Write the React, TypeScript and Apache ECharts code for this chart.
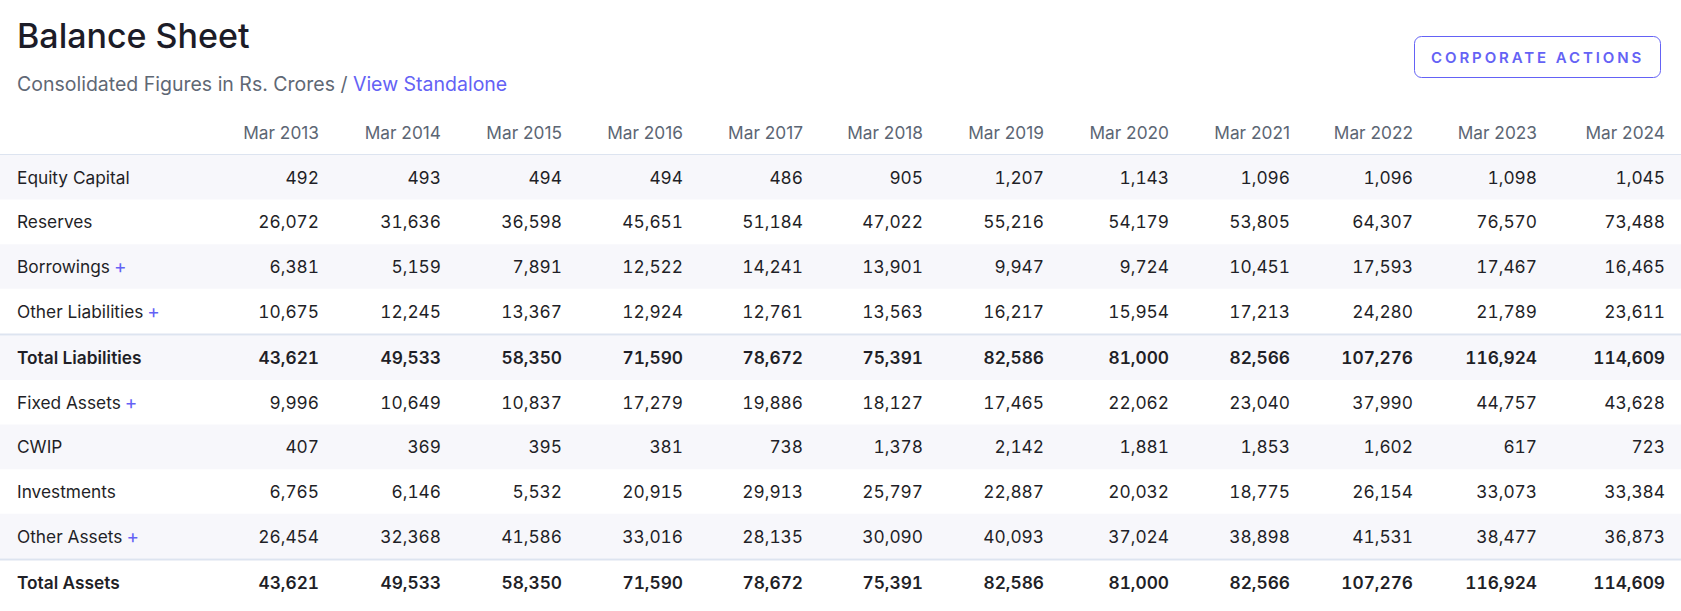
import React, { useEffect, useRef } from "react";
import * as echarts from "echarts";

const years = ["Mar 2013", "Mar 2014", "Mar 2015", "Mar 2016", "Mar 2017", "Mar 2018", "Mar 2019", "Mar 2020", "Mar 2021", "Mar 2022", "Mar 2023", "Mar 2024"];

const equityCapital = [492, 493, 494, 494, 486, 905, 1207, 1143, 1096, 1096, 1098, 1045];
const reserves = [26072, 31636, 36598, 45651, 51184, 47022, 55216, 54179, 53805, 64307, 76570, 73488];
const borrowings = [6381, 5159, 7891, 12522, 14241, 13901, 9947, 9724, 10451, 17593, 17467, 16465];
const otherLiabilities = [10675, 12245, 13367, 12924, 12761, 13563, 16217, 15954, 17213, 24280, 21789, 23611];
const totalLiabilities = [43621, 49533, 58350, 71590, 78672, 75391, 82586, 81000, 82566, 107276, 116924, 114609];
const fixedAssets = [9996, 10649, 10837, 17279, 19886, 18127, 17465, 22062, 23040, 37990, 44757, 43628];
const cwip = [407, 369, 395, 381, 738, 1378, 2142, 1881, 1853, 1602, 617, 723];
const investments = [6765, 6146, 5532, 20915, 29913, 25797, 22887, 20032, 18775, 26154, 33073, 33384];
const otherAssets = [26454, 32368, 41586, 33016, 28135, 30090, 40093, 37024, 38898, 41531, 38477, 36873];
const totalAssets = [43621, 49533, 58350, 71590, 78672, 75391, 82586, 81000, 82566, 107276, 116924, 114609];

const rowLabels = ["Equity Capital", "Reserves", "Borrowings", "Other Liabilities", "Total Liabilities", "Fixed Assets", "CWIP", "Investments", "Other Assets", "Total Assets"];
const rowValues = [equityCapital, reserves, borrowings, otherLiabilities, totalLiabilities, fixedAssets, cwip, investments, otherAssets, totalAssets];
const expandable = [false, false, true, true, false, true, false, false, true, false];
const totalRows = [false, false, false, false, true, false, false, false, false, true];

const title = "Balance Sheet";
const subtitleGrey = "Consolidated Figures in Rs. Crores / ";
const subtitleLink = "View Standalone";
const buttonLabel = "CORPORATE ACTIONS";

// layout
const W = 1681;
const H = 611;
const FONT = "Inter, 'Noto Sans', sans-serif";
const BODY_FS = 17.3;
const COL_RIGHT = [319, 441, 562, 683, 803, 923, 1044, 1169, 1290, 1413, 1537, 1665];
const LABEL_X = 17;
const HEADER_Y = 132;
const TABLE_TOP = 155;
const ROW_H = 44.6;
const DIV_H = 2;

const C = {
  title: "#1c1c28",
  grey: "#5f6875",
  link: "#6462f5",
  header: "#5c6674",
  text: "#1f1f27",
  shade: "#f7f7fb",
  line: "#dde4f0",
};

function rowTop(i: number) {
  let t = TABLE_TOP + i * ROW_H;
  if (i >= 4) t += DIV_H;
  if (i >= 9) t += DIV_H;
  return t;
}

function fmt(v: number) {
  return v.toLocaleString("en-US");
}

function buildGraphics() {
  const g: any[] = [];
  g.push({ type: "rect", shape: { x: 0, y: 0, width: W, height: H }, style: { fill: "#ffffff" }, silent: true });
  // title
  g.push({
    type: "text", x: 17, y: 35, silent: true,
    style: { text: title, font: `500 34px ${FONT}`, fill: C.title, textVerticalAlign: "middle", textAlign: "left" },
  });
  // subtitle
  g.push({
    type: "text", x: 17, y: 84, silent: true,
    style: {
      text: `{g|${subtitleGrey}}{b|${subtitleLink}}`,
      textVerticalAlign: "middle", textAlign: "left",
      rich: {
        g: { fontFamily: FONT, fontSize: 19.5, fill: C.grey, color: C.grey },
        b: { fontFamily: FONT, fontSize: 19.5, fill: C.link, color: C.link },
      },
    },
  });
  // button
  g.push({
    type: "rect", silent: true,
    shape: { x: 1414.5, y: 36.5, width: 246, height: 41, r: 7 },
    style: { fill: "#ffffff", stroke: C.link, lineWidth: 1 },
  });
  g.push({
    type: "text", x: 1431, y: 57, silent: true,
    style: { text: buttonLabel, font: `600 15px ${FONT}`, fill: C.link, textVerticalAlign: "middle", textAlign: "left" },
  });
  // header
  years.forEach((y, c) => {
    g.push({
      type: "text", x: COL_RIGHT[c], y: HEADER_Y, silent: true, name: "hdr",
      style: { text: y, font: `400 ${BODY_FS}px ${FONT}`, fill: C.header, textAlign: "right", textVerticalAlign: "middle" },
    });
  });
  g.push({ type: "rect", silent: true, shape: { x: 0, y: 154, width: W, height: 1 }, style: { fill: C.line } });
  // rows
  rowLabels.forEach((label, i) => {
    const top = rowTop(i);
    if (i % 2 === 0) {
      g.push({ type: "rect", silent: true, shape: { x: 0, y: top, width: W, height: ROW_H }, style: { fill: C.shade } });
    }
    if (totalRows[i]) {
      g.push({ type: "rect", silent: true, shape: { x: 0, y: top - DIV_H, width: W, height: DIV_H }, style: { fill: C.line } });
    }
    const cy = top + ROW_H / 2;
    const weight = totalRows[i] ? 600 : 400;
    if (expandable[i]) {
      g.push({
        type: "text", x: LABEL_X, y: cy, silent: true,
        style: {
          text: `{l|${label}}{s| }{p|+}`,
          textAlign: "left", textVerticalAlign: "middle",
          rich: {
            l: { fontFamily: FONT, fontSize: BODY_FS, fontWeight: weight, fill: C.text, color: C.text },
            s: { fontFamily: FONT, fontSize: BODY_FS, width: 4 },
            p: { fontFamily: FONT, fontSize: 19, fontWeight: 400, fill: C.link, color: C.link },
          },
        },
      });
    } else {
      g.push({
        type: "text", x: LABEL_X, y: cy, silent: true,
        style: { text: label, font: `${weight} ${BODY_FS}px ${FONT}`, fill: C.text, textAlign: "left", textVerticalAlign: "middle" },
      });
    }
    rowValues[i].forEach((v, c) => {
      g.push({
        type: "text", x: COL_RIGHT[c], y: cy, silent: true,
        style: { text: fmt(v), font: `${weight} ${BODY_FS}px ${FONT}`, fill: C.text, textAlign: "right", textVerticalAlign: "middle" },
      });
    });
  });
  return g;
}

export default function App() {
  const ref = useRef<HTMLDivElement>(null);
  useEffect(() => {
    if (!ref.current) return;
    const chart = echarts.init(ref.current, null, { renderer: "svg", width: W, height: H });
    chart.setOption({
      animation: false,
      backgroundColor: "#ffffff",
      graphic: { elements: buildGraphics() },
    });
    // tabular figures for the numeric cells and a letter-spaced button label
    const yearSet = new Set(years);
    const texts = ref.current.querySelectorAll("text");
    texts.forEach((t) => {
      const el = t as SVGTextElement;
      const s = t.textContent || "";
      if (s === buttonLabel) {
        el.style.letterSpacing = "2.9px";
      } else if (/^[\d,]+$/.test(s) && !yearSet.has(s)) {
        el.style.fontVariantNumeric = "tabular-nums";
        el.style.fontFeatureSettings = '"tnum" 1';
      }
    });
    return () => chart.dispose();
  }, []);
  return (
    <div
      ref={ref}
      style={{ position: "fixed", left: 0, top: 0, width: W, height: H, background: "#fff" }}
    />
  );
}
